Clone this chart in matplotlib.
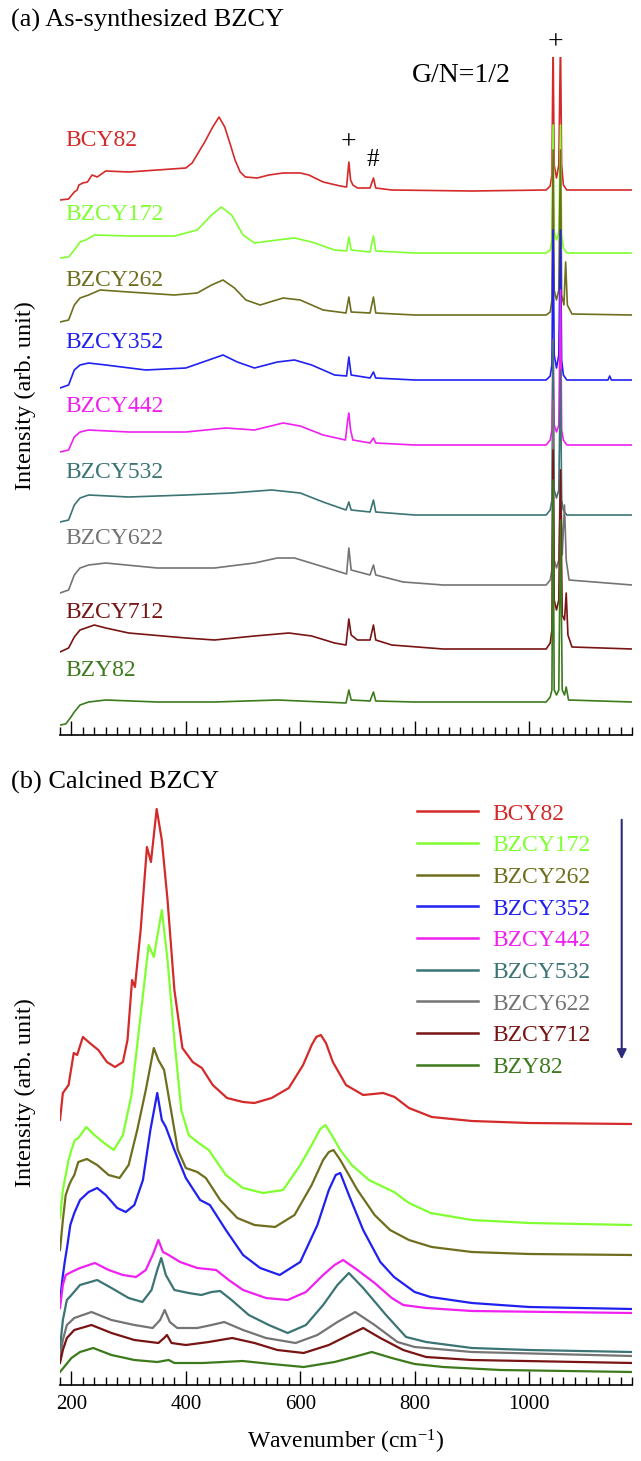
import matplotlib
matplotlib.use("Agg")
import matplotlib.pyplot as plt
from matplotlib.ticker import MultipleLocator
import numpy as np

plt.rcParams['font.family'] = ['Liberation Serif', 'DejaVu Serif']
plt.rcParams['mathtext.default'] = 'regular'

names = ['BCY82', 'BZCY172', 'BZCY262', 'BZCY352', 'BZCY442',
         'BZCY532', 'BZCY622', 'BZCY712', 'BZY82']
colors = ['#d42a2a', '#80ff30', '#6e6e1e', '#2020f0', '#f020f0',
          '#3c7474', '#747474', '#781414', '#3c7a1c']

# (a) as-synthesized, (wavenumber, offset intensity)
as_bcy82 = [(180, 535), (195, 536), (205, 543), (210, 545), (213, 550), (220, 552), (228, 553),
            (236, 560), (245, 558), (260, 564), (300, 563), (350, 565), (400, 567), (411, 572),
            (432, 592), (447, 608), (458, 618), (468, 608), (478, 590), (486, 575), (495, 563),
            (504, 558), (525, 557), (545, 560), (570, 562), (600, 562), (615, 560), (640, 553),
            (670, 549), (681, 548), (685, 573), (688, 555), (692, 550), (700, 547), (722, 547),
            (728, 557), (732, 547), (760, 545), (900, 544), (1030, 545), (1037, 549), (1040, 560),
            (1042, 695), (1044, 570), (1048, 557), (1052, 570), (1055, 695), (1057, 570),
            (1060, 550), (1066, 545), (1180, 545)]
as_bzcy172 = [(180, 477), (195, 478), (205, 485), (215, 493), (225, 495), (240, 500), (300, 499),
              (380, 499), (420, 505), (445, 520), (462, 528), (480, 520), (500, 500), (520, 492),
              (560, 495), (590, 497), (620, 493), (660, 485), (681, 484), (685, 498), (689, 485),
              (722, 483), (728, 499), (732, 484), (800, 482), (1030, 482), (1037, 485), (1040, 495),
              (1042, 610), (1044, 503), (1048, 495), (1052, 503), (1055, 610), (1057, 500),
              (1060, 487), (1066, 482), (1180, 482)]
as_bzcy262 = [(180, 413), (195, 415), (205, 430), (215, 437), (230, 440), (250, 445), (300, 443),
              (380, 440), (420, 442), (445, 450), (465, 455), (485, 447), (505, 435), (530, 430),
              (570, 437), (600, 435), (640, 425), (680, 422), (685, 438), (689, 423), (722, 422),
              (728, 438), (732, 422), (800, 420), (1030, 420), (1037, 423), (1040, 435), (1042, 585),
              (1044, 445), (1048, 435), (1052, 445), (1055, 585), (1057, 440), (1061, 430),
              (1064, 473), (1067, 430), (1075, 421), (1180, 420)]
as_bzcy352 = [(180, 347), (195, 350), (205, 365), (215, 370), (230, 372), (260, 370), (330, 365),
              (400, 367), (440, 375), (465, 380), (490, 373), (520, 367), (560, 373), (590, 375),
              (620, 370), (660, 360), (681, 359), (685, 378), (689, 360), (722, 357), (728, 363),
              (732, 357), (800, 355), (1030, 355), (1037, 359), (1040, 370), (1042, 505), (1044, 380),
              (1048, 367), (1052, 380), (1055, 505), (1057, 375), (1060, 360), (1066, 355),
              (1138, 355), (1141, 359), (1144, 355), (1180, 355)]
as_bzcy442 = [(180, 283), (195, 285), (205, 298), (215, 303), (230, 305), (300, 303), (400, 303),
              (470, 307), (520, 305), (570, 312), (600, 309), (640, 300), (679, 295), (683, 315),
              (685, 322), (688, 305), (692, 295), (722, 292), (728, 297), (732, 292), (800, 290),
              (1030, 290), (1037, 295), (1040, 305), (1042, 395), (1044, 310), (1048, 303),
              (1052, 310), (1055, 445), (1057, 305), (1060, 295), (1066, 290), (1180, 290)]
as_bzcy532 = [(180, 213), (195, 215), (205, 230), (215, 237), (230, 240), (300, 238), (400, 240),
              (480, 242), (550, 245), (600, 242), (640, 233), (680, 225), (685, 233), (689, 225),
              (722, 223), (728, 235), (732, 223), (800, 220), (1030, 220), (1037, 225), (1040, 235),
              (1042, 395), (1044, 245), (1048, 237), (1052, 245), (1055, 365), (1057, 235),
              (1060, 225), (1066, 220), (1180, 220)]
as_bzcy622 = [(180, 142), (195, 145), (205, 160), (215, 167), (230, 170), (260, 172), (350, 167),
              (450, 167), (520, 172), (560, 177), (590, 177), (630, 170), (670, 163), (681, 161),
              (685, 187), (689, 165), (722, 160), (728, 170), (732, 160), (780, 153), (850, 150),
              (1030, 150), (1037, 155), (1040, 165), (1042, 335), (1044, 175), (1048, 167),
              (1052, 175), (1055, 265), (1058, 180), (1062, 230), (1065, 175), (1070, 155), (1180, 150)]
as_bzcy712 = [(180, 83), (195, 87), (205, 98), (215, 105), (225, 107), (240, 110), (260, 107),
              (300, 102), (400, 97), (450, 95), (520, 99), (580, 102), (620, 99), (660, 92),
              (680, 90), (685, 116), (689, 100), (700, 95), (722, 95), (728, 110), (732, 95),
              (760, 90), (850, 86), (1030, 86), (1037, 92), (1040, 105), (1042, 285), (1044, 135),
              (1048, 125), (1052, 135), (1055, 265), (1058, 120), (1062, 115), (1065, 142),
              (1068, 100), (1075, 88), (1180, 86)]
as_bzy82 = [(180, 10), (190, 11), (198, 17), (205, 23), (215, 30), (230, 33), (260, 35), (350, 33),
            (450, 33), (560, 35), (640, 33), (680, 32), (685, 45), (689, 35), (722, 34), (728, 43),
            (732, 34), (800, 33), (1030, 33), (1037, 38), (1040, 45), (1042, 255), (1044, 45),
            (1048, 40), (1052, 45), (1055, 215), (1058, 45), (1062, 40), (1065, 48), (1069, 35),
            (1180, 33)]

# (b) calcined
ca_bcy82 = [(180, 265), (185, 292), (195, 300), (204, 332), (210, 330), (220, 348), (232, 342),
            (247, 335), (262, 323), (276, 318), (290, 323), (298, 345), (306, 405), (311, 398),
            (321, 455), (332, 538), (339, 523), (349, 576), (358, 545), (368, 485), (380, 395),
            (394, 337), (412, 323), (428, 317), (447, 300), (472, 287), (500, 283), (520, 282),
            (550, 287), (580, 297), (605, 320), (620, 340), (628, 348), (636, 350), (645, 342),
            (657, 323), (680, 300), (710, 290), (745, 292), (765, 288), (790, 277), (830, 268),
            (900, 264), (1000, 262), (1180, 261)]
ca_bzcy172 = [(180, 167), (185, 195), (190, 210), (195, 225), (200, 235), (206, 245), (212, 247),
              (226, 258), (240, 250), (255, 243), (274, 235), (290, 250), (305, 290), (320, 365),
              (335, 440), (344, 428), (358, 475), (368, 425), (380, 345), (392, 275), (405, 250),
              (420, 243), (440, 235), (470, 210), (500, 197), (535, 192), (570, 195), (600, 220),
              (620, 240), (635, 256), (644, 260), (655, 250), (670, 235), (690, 220), (720, 205),
              (764, 193), (790, 182), (828, 172), (900, 165), (1000, 162), (1180, 160)]
ca_bzcy262 = [(180, 135), (185, 165), (190, 190), (196, 200), (200, 205), (205, 210), (212, 223),
              (227, 226), (245, 220), (265, 210), (284, 207), (300, 220), (315, 255), (330, 295),
              (344, 337), (352, 325), (362, 315), (374, 275), (386, 235), (400, 217), (420, 213),
              (435, 207), (460, 185), (490, 167), (520, 160), (556, 158), (590, 170), (620, 200),
              (640, 225), (650, 233), (658, 235), (670, 225), (700, 195), (730, 170), (757, 155),
              (790, 145), (830, 138), (900, 133), (1000, 131), (1180, 130)]
ca_bzcy352 = [(180, 83), (184, 105), (188, 122), (193, 140), (198, 160), (205, 172), (215, 185),
              (230, 193), (245, 197), (260, 190), (280, 177), (295, 173), (310, 180), (325, 205),
              (338, 255), (350, 292), (358, 265), (365, 258), (380, 235), (400, 207), (425, 185),
              (442, 180), (470, 155), (500, 130), (530, 117), (564, 110), (600, 123), (630, 160),
              (650, 195), (662, 210), (670, 212), (685, 190), (710, 155), (740, 123), (764, 108),
              (800, 93), (828, 88), (900, 82), (1000, 78), (1180, 76)]
ca_bzcy442 = [(180, 77), (185, 100), (190, 110), (200, 113), (215, 117), (241, 122), (265, 115),
              (290, 110), (313, 108), (330, 115), (342, 130), (352, 145), (360, 133), (370, 130),
              (390, 123), (420, 117), (453, 115), (475, 105), (500, 95), (540, 87), (578, 85),
              (610, 93), (640, 110), (660, 120), (675, 125), (700, 115), (730, 102), (760, 87),
              (780, 80), (820, 77), (900, 74), (1180, 72)]
ca_bzcy532 = [(180, 37), (185, 65), (192, 85), (200, 90), (215, 100), (245, 105), (270, 97),
              (300, 87), (324, 83), (340, 95), (350, 115), (357, 127), (365, 110), (380, 95),
              (405, 92), (427, 90), (445, 93), (460, 94), (480, 85), (510, 70), (545, 60), (578, 52),
              (610, 60), (640, 80), (665, 100), (685, 112), (710, 97), (750, 70), (785, 48),
              (820, 43), (900, 37), (1000, 35), (1180, 33)]
ca_bzcy622 = [(180, 28), (185, 45), (192, 60), (205, 67), (235, 73), (270, 65), (310, 60),
              (342, 57), (355, 65), (363, 75), (372, 63), (385, 57), (420, 57), (445, 60),
              (467, 63), (500, 55), (540, 47), (592, 42), (630, 50), (665, 63), (696, 73),
              (730, 60), (770, 43), (800, 38), (900, 33), (1180, 29)]
ca_bzcy712 = [(180, 22), (185, 35), (192, 47), (205, 55), (235, 60), (270, 52), (310, 45),
              (352, 42), (362, 47), (367, 50), (375, 42), (400, 40), (440, 43), (481, 47),
              (520, 42), (560, 35), (606, 32), (650, 40), (685, 50), (710, 57), (740, 47),
              (780, 35), (820, 28), (900, 25), (1180, 22)]
ca_bzy82 = [(180, 13), (190, 20), (200, 27), (215, 33), (238, 37), (270, 30), (310, 25), (350, 23),
            (370, 25), (380, 22), (430, 22), (499, 24), (550, 21), (606, 18), (660, 23), (700, 29),
            (725, 33), (760, 27), (800, 21), (850, 18), (950, 15), (1180, 13)]

as_series = [as_bcy82, as_bzcy172, as_bzcy262, as_bzcy352, as_bzcy442,
             as_bzcy532, as_bzcy622, as_bzcy712, as_bzy82]
ca_series = [ca_bcy82, ca_bzcy172, ca_bzcy262, ca_bzcy352, ca_bzcy442,
             ca_bzcy532, ca_bzcy622, ca_bzcy712, ca_bzy82]
label_heights = [595, 520, 455, 392, 328, 263, 197, 123, 65]

W, H = 641, 1461


def px_box(l, t, r, b):
    return [l / W, 1 - b / H, (r - l) / W, (b - t) / H]


def style_axis(ax, ymax):
    ax.set_xlim(180, 1180)
    ax.set_ylim(0, ymax)
    for side in ['left', 'top', 'right']:
        ax.spines[side].set_visible(False)
    ax.spines['bottom'].set_linewidth(1.2)
    ax.set_yticks([])
    ax.xaxis.set_major_locator(MultipleLocator(200))
    ax.xaxis.set_minor_locator(MultipleLocator(20))
    ax.tick_params(axis='x', which='major', direction='in', length=10, width=1.0,
                   labelsize=15, pad=7)
    ax.tick_params(axis='x', which='minor', direction='in', length=5.5, width=1.0)
    ax.set_ylabel('Intensity (arb. unit)', fontsize=17.5, va='center')
    ax.yaxis.set_label_coords(-0.06, 0.5)


fig = plt.figure(figsize=(6.41, 14.61), dpi=100)
ax1 = fig.add_axes(px_box(60, 57, 632, 735))
ax2 = fig.add_axes(px_box(60, 800, 632, 1385))

for pts, name, c, lh in zip(as_series, names, colors, label_heights):
    x, y = np.array(pts).T
    ax1.plot(x, y, color=c, lw=1.2)
    ax1.text(189, lh, name, color=c, fontsize=17, va='center', ha='left')
style_axis(ax1, 678)
ax1.set_xticklabels([])
ax1.text(1046, 692, '+', fontsize=20, ha='center', va='center', clip_on=False)
ax1.text(685, 592, '+', fontsize=20, ha='center', va='center')
ax1.text(727, 575, '#', fontsize=18, ha='center', va='center')
ax1.text(881, 660, 'G/N=1/2', fontsize=20, ha='center', va='center')

handles = []
for pts, name, c in zip(ca_series, names, colors):
    x, y = np.array(pts).T
    h, = ax2.plot(x, y, color=c, lw=1.6, label=name)
    handles.append(h)
style_axis(ax2, 585)
ax2.set_xticks([200, 400, 600, 800, 1000])
ax2.set_xlabel('Wavenumber (cm$^{-1}$)', fontsize=17, labelpad=10)
leg = ax2.legend(handles=handles, loc='upper left', bbox_to_anchor=(417 / W, 1 - 803 / H),
                 bbox_transform=fig.transFigure, frameon=False, fontsize=17,
                 handlelength=2.6, handletextpad=0.6, labelspacing=0.43,
                 borderpad=0, borderaxespad=0, labelcolor='linecolor')
for line in leg.get_lines():
    line.set_linewidth(1.8)
ax2.annotate('', xy=(1162, 323), xytext=(1162, 568),
             arrowprops=dict(arrowstyle='-|>', color='#2c2c7c', lw=1.5, mutation_scale=14))

fig.text(11 / W, 1 - 20 / H, '(a) As-synthesized BZCY', fontsize=19, va='center', ha='left')
fig.text(11 / W, 1 - 782 / H, '(b) Calcined BZCY', fontsize=19, va='center', ha='left')

fig.savefig('out.png', dpi=100, facecolor='white')
